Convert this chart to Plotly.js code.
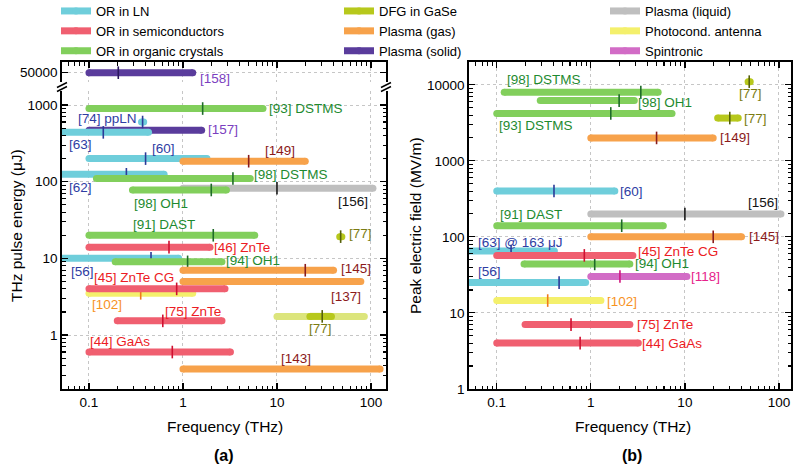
<!DOCTYPE html>
<html><head><meta charset="utf-8">
<script src="https://cdn.plot.ly/plotly-3.0.1.min.js"></script>
<style>html,body{margin:0;padding:0;background:#fff}</style>
</head><body><div id="chart" style="width:800px;height:467px"></div>
<script>
// ---------- categories ----------
const catKeys  = ['ln','semi','org','dfg','gas','solid','liquid','pca','spin','dfgLight'];
const catNames = ['OR in LN','OR in semiconductors','OR in organic crystals','DFG in GaSe','Plasma (gas)','Plasma (solid)','Plasma (liquid)','Photocond. antenna','Spintronic','DFG in GaSe (tuning range)'];

// ---------- panel (a): THz pulse energy (uJ) ----------
const energyRefs  = ['[158]','[93] DSTMS','[74] ppLN','[157]','[63]','[60]','[149]','[62]','[98] DSTMS','[98] OH1','[156]','[91] DAST','[77]','[46] ZnTe','[56]','[94] OH1','[145]','[137]','[45] ZnTe CG','[102]','[75] ZnTe','','[77]','[44] GaAs','[143]'];
const energyCats  = ['solid','org','ln','solid','ln','ln','gas','ln','org','org','liquid','org','dfg','semi','ln','org','gas','gas','semi','pca','semi','dfgLight','dfg','semi','gas'];
const energyStart = [0.1, 0.1, 0.362, 0.1, 0.05, 0.1, 1.0, 0.05, 0.12, 0.29, 1.0, 0.1, 46.5, 0.1, 0.05, 0.19, 1.0, 1.0, 0.1, 0.1, 0.2, 10, 22.4, 0.1, 1.0];
const energyEnd   = [1.27, 7.1, 0.382, 1.58, 0.43, 1.8, 20, 0.63, 5.2, 2.9, 105, 5.8, 49, 1.94, 0.9, 2.6, 40, 78, 2.8, 1.27, 2.6, 85, 38, 3.2, 125];
const energyPeak  = [0.205, 1.62, 0.372, null, 0.142, 0.40, 5.0, 0.25, 3.4, 2.0, 10, 2.1, 47.6, 0.71, 0.457, 1.12, 20, null, 0.857, 0.355, 0.61, null, 30.3, 0.77, null];
const energyValue = [50000, 900, 600, 470, 440, 200, 185, 125, 110, 78, 82, 20, 19.2, 14, 10, 9, 7, 5, 4.0, 3.5, 1.53, 1.75, 1.75, 0.6, 0.36];

// ---------- panel (b): peak electric field (MV/m) ----------
const fieldRefs  = ['[98] DSTMS','[98] OH1','[93] DSTMS','[77]','[77]','[149]','[60]','[156]','[91] DAST','[145]','[63] @ 163 \u03bcJ','[45] ZnTe CG','[94] OH1','[56]','[118]','[102]','[75] ZnTe','[44] GaAs'];
const fieldCats  = ['org','org','org','dfg','dfg','gas','ln','liquid','org','gas','ln','semi','org','ln','spin','pca','semi','semi'];
const fieldStart = [0.12, 0.29, 0.1, 47, 22.3, 1.0, 0.1, 1.0, 0.1, 1.0, 0.05, 0.1, 0.195, 0.05, 1.0, 0.1, 0.2, 0.1];
const fieldEnd   = [5.2, 2.9, 7.3, 49.5, 36.9, 20, 1.8, 105, 5.9, 40, 0.41, 2.8, 2.6, 0.88, 10.5, 1.28, 2.6, 3.2];
const fieldPeak  = [3.4, 2.0, 1.63, 48.3, 30, 5.0, 0.406, 10, 2.13, 20, 0.142, 0.853, 1.1, 0.46, 2.04, 0.348, 0.616, 0.77];
const fieldValue = [8000, 6200, 4200, 11000, 3650, 2000, 400, 200, 140, 100, 65, 57, 44, 25, 30, 14.5, 7, 4];

// ---------- tick labels ----------
const upperTickVals = [50000];
const upperTickText = ['50000'];

// ---------- label placement (anchor: s/e/p, xanchor, dx px, dy px down) ----------
const energyLabelPos = [['e','left',6.2,6.3],['e','left',4.7,0.3],['s','right',-3.5,-3.7],['e','left',5.6,-1],['s','left',6,12.3],['p','left',5,-10.3],['e','right',-9.6,-10.7],['s','left',6,13],['e','left',3,-4.3],['s','left',0.5,14],['e','right',-4,13.4],['s','left',42.7,-10.3],['e','left',6.1,-2.7],['e','left',3.3,0.5],['s','left',8,13],['e','left',3,-1.2],['e','left',6.4,-1.7],['e','right',1,15],['s','left',4,-11.7],['s','left',1.7,11],['e','right',-0.3,-9.3],null,['p','center',-1.3,12.3],['s','left',0,-10.6],['s','left',97,-11]];
const fieldLabelPos = [['s','left',1.9,-12.3],['e','left',3,1.6],['s','left',1.3,12.4],['p','center',1.5,11.6],['e','left',5,0],['e','left',6.1,0],['e','left',4.5,0],['e','right',-1.7,-11.3],['s','left',2.3,-11.7],['e','left',6.7,0],['s','left',8.3,-9],['e','left',4.4,-4],['e','left',4.4,-0.3],['s','left',8.3,-10.6],['e','left',3,0],['e','left',5,1],['e','left',5.8,0],['e','left',2.4,0]];

// ---------- styles ----------
const FONT = '"Liberation Sans", Arial, Helvetica, sans-serif';
const barColor   = {ln:'#6FCEDB', semi:'#F05F70', org:'#82CF5C', dfg:'#B7C81C', gas:'#F7A24B', solid:'#5A3C9C', liquid:'#BFBFBF', pca:'#F4F06C', spin:'#D26CC6', dfgLight:'#DCE57C'};
const peakColor  = {ln:'#2B3A98', semi:'#CF1030', org:'#1E6B28', dfg:'#55600A', gas:'#8A1C1C', solid:'#2A165E', liquid:'#1A1A1A', pca:'#F07A1A', spin:'#D0157E', dfgLight:'#55600A'};
const labelColor = {ln:'#2E3DA3', semi:'#EC1C24', org:'#1E8A30', dfg:'#7B7C12', gas:'#8B1A1A', solid:'#7B3FBF', liquid:'#111111', pca:'#F7921E', spin:'#E6228B', dfgLight:'#7B7C12'};
const drawOrder = ['liquid','solid','ln','org','pca','semi','gas','spin','dfgLight','dfg'];
const legendOf = {ln:['legend',1], semi:['legend',2], org:['legend',3], dfg:['legend2',1], gas:['legend2',2], solid:['legend2',3], liquid:['legend3',1], pca:['legend3',2], spin:['legend3',3]};
const BAR_W = 7;

const xRangeA = [-1.287, 2.160], xRangeB = [-1.295, 2.128];
const energyAxisFor = v => (v > 5000 ? 'y3' : 'y');
const fieldAxisFor = v => 'y2';
const xFor = {y:'x', y3:'x3', y2:'x2'};

const shown = {};
const traces = [];
function addPanel(cats, st, en, pk, val, axisFor) {
  drawOrder.forEach(cat => {
    const groups = {};
    cats.forEach((c, i) => { if (c !== cat) return; const a = axisFor(val[i]); (groups[a] = groups[a] || []).push(i); });
    Object.keys(groups).forEach(a => {
      const idx = groups[a];
      const xs = [], ys = [];
      idx.forEach(i => { xs.push(st[i], en[i], null); ys.push(val[i], val[i], null); });
      const lg = legendOf[cat];
      const show = !!lg && !shown[cat];
      if (show) shown[cat] = true;
      traces.push({
        type:'scatter', mode:'lines+markers', x:xs, y:ys, xaxis:xFor[a], yaxis:a,
        name: catNames[catKeys.indexOf(cat)],
        line:{color:barColor[cat], width:BAR_W}, marker:{color:barColor[cat], size:BAR_W, symbol:'circle'},
        showlegend: show, legend: lg ? lg[0] : 'legend', legendrank: lg ? lg[1] : 1000,
        hoverinfo:'skip'
      });
      const px = [], py = [];
      idx.forEach(i => { if (pk[i] != null) { px.push(pk[i]); py.push(val[i]); } });
      if (px.length) traces.push({
        type:'scatter', mode:'markers', x:px, y:py, xaxis:xFor[a], yaxis:a, showlegend:false,
        marker:{symbol:'line-ns', size:9, line:{width:1.6, color:peakColor[cat]}}, hoverinfo:'skip'
      });
    });
  });
}
addPanel(energyCats, energyStart, energyEnd, energyPeak, energyValue, energyAxisFor);
addPanel(fieldCats, fieldStart, fieldEnd, fieldPeak, fieldValue, fieldAxisFor);

function labels(refs, cats, st, en, pk, val, pos, axisFor, xr) {
  const out = [];
  refs.forEach((t, i) => {
    if (!t || !pos[i]) return;
    const p = pos[i];
    const xv = p[0] === 's' ? st[i] : (p[0] === 'e' ? en[i] : pk[i]);
    let lx = Math.log10(xv);
    lx = Math.min(Math.max(lx, xr[0]), xr[1]);
    const a = axisFor(val[i]);
    out.push({x:lx, y:Math.log10(val[i]), xref:xFor[a], yref:a, text:t, showarrow:false,
      xanchor:p[1], yanchor:'middle', xshift:p[2], yshift:-p[3], borderpad:0,
      font:{family:FONT, size:13.5, color:labelColor[cats[i]]}});
  });
  return out;
}
const annotations = [].concat(
  labels(energyRefs, energyCats, energyStart, energyEnd, energyPeak, energyValue, energyLabelPos, energyAxisFor, xRangeA),
  labels(fieldRefs, fieldCats, fieldStart, fieldEnd, fieldPeak, fieldValue, fieldLabelPos, fieldAxisFor, xRangeB)
);
const W = 800, H = 467;
function paperAnn(text, px, py, size, angle, bold) {
  return {text: bold ? '<b>' + text + '</b>' : text, x:px/W, y:1-py/H, xref:'paper', yref:'paper', showarrow:false,
    xanchor:'center', yanchor:'middle', textangle:angle||0, font:{family:FONT, size:size, color:'#000'}};
}
annotations.push(
  paperAnn('Frequency (THz)', 224.5, 426.7, 15.5),
  paperAnn('Frequency (THz)', 632.5, 426.7, 15.5),
  paperAnn('THz pulse energy (\u03bcJ)', 16, 226, 15.5, -90),
  paperAnn('Peak electric field (MV/m)', 415, 226, 15.5, -90),
  paperAnn('(a)', 224, 455, 16, 0, true),
  paperAnn('(b)', 631.5, 455, 16, 0, true)
);

// axis-break marks
const shapes = [];
[62, 386].forEach(cx => {
  const cy = 87;
  [[cx-5, cy+4.5, cx+5, cy-0.5], [cx-5, cy+0.5, cx+5, cy-4.5]].forEach(s => shapes.push({
    type:'line', xref:'paper', yref:'paper', x0:s[0]/W, y0:1-s[1]/H, x1:s[2]/W, y1:1-s[3]/H, line:{color:'#000', width:1.5}
  }));
});

const axBase = {type:'log', showline:true, linecolor:'#000', linewidth:1.8, ticks:'inside', ticklen:6, tickwidth:1.3, tickcolor:'#000',
  showgrid:true, gridcolor:'#c6c6c6', griddash:'3px,3px', gridwidth:1, zeroline:false,
  tickfont:{family:FONT, size:13.5, color:'#000'}, exponentformat:'none', tick0:0, dtick:1,
  minor:{ticks:'inside', ticklen:3.5, tickwidth:1.1, tickcolor:'#000', showgrid:false, dtick:'D1'}};
const legBase = {xanchor:'left', yanchor:'top', y:1 + 4/H, bgcolor:'rgba(0,0,0,0)', font:{family:FONT, size:13, color:'#000'}, orientation:'v'};

const layout = {
  width:W, height:H, margin:{l:0, r:0, t:0, b:0, autoexpand:false},
  paper_bgcolor:'#fff', plot_bgcolor:'rgba(0,0,0,0)', font:{family:FONT, size:13.5, color:'#000'},
  xaxis: Object.assign({}, axBase, {domain:[62/W, 386/W], range:xRangeA, anchor:'y'}),
  yaxis: Object.assign({}, axBase, {domain:[1-389/H, 1-91/H], range:[-0.704, 3.183], anchor:'x', mirror:'ticks', tickformat:'d'}),
  xaxis3: Object.assign({}, axBase, {domain:[62/W, 386/W], range:xRangeA, anchor:'y3', side:'top', showticklabels:false}),
  yaxis3: Object.assign({}, axBase, {domain:[1-82/H, 1-62/H], range:[4.578, 4.838], anchor:'x3', mirror:'ticks', tickmode:'array', tickvals:upperTickVals, ticktext:upperTickText, minor:{ticks:''}}),
  xaxis2: Object.assign({}, axBase, {domain:[469/W, 791/W], range:xRangeB, anchor:'y2', mirror:'ticks'}),
  yaxis2: Object.assign({}, axBase, {domain:[1-389/H, 1-62/H], range:[-0.002, 4.30], anchor:'x2', mirror:'ticks', tickformat:'d'}),
  showlegend:true,
  legend: Object.assign({}, legBase, {x:56/W}),
  legend2: Object.assign({}, legBase, {x:339/W}),
  legend3: Object.assign({}, legBase, {x:605/W}),
  annotations: annotations,
  shapes: shapes
};
Plotly.newPlot('chart', traces, layout, {displayModeBar:false, staticPlot:true});
</script>
</body></html>
